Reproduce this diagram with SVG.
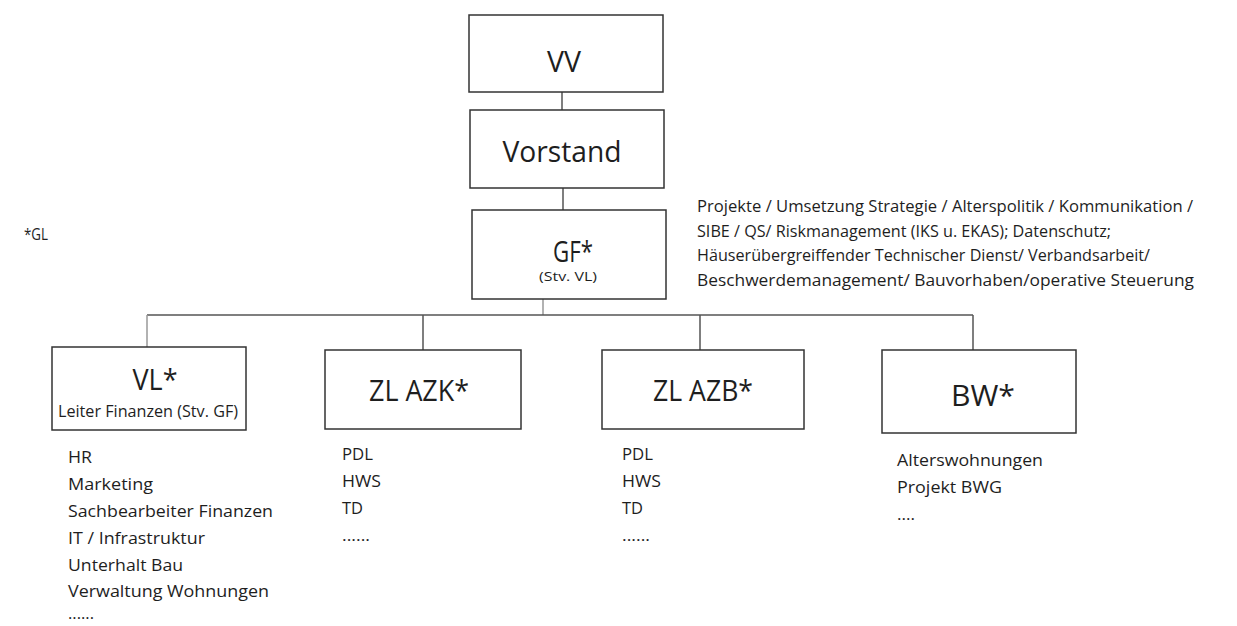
<svg xmlns="http://www.w3.org/2000/svg" width="1237" height="626" viewBox="0 0 1237 626">
<style>
text{font-family:"Open Sans","Liberation Sans",sans-serif;fill:#1e1e1e}
.box{fill:#fff;stroke:#333;stroke-width:1.5}
.big{font-size:29px;text-anchor:middle}
.sm{font-size:16.5px}
.ln{stroke:#555;stroke-width:1.5;fill:none}
.lt{stroke:#999;stroke-width:1.5;fill:none}
</style>
<rect width="1237" height="626" fill="#fff"/>
<g id="connectors">
<line class="ln" x1="562" y1="92" x2="562" y2="110"/>
<line class="ln" x1="563" y1="188" x2="563" y2="210"/>
<line class="lt" x1="543" y1="299" x2="543" y2="315"/>
<line class="ln" x1="147" y1="315" x2="973" y2="315"/>
<line class="lt" x1="147" y1="315" x2="147" y2="347"/>
<line class="ln" x1="423" y1="315" x2="423" y2="350"/>
<line class="ln" x1="700" y1="315" x2="700" y2="350"/>
<line class="ln" x1="973" y1="315" x2="973" y2="350"/>
</g>
<g id="vv">
<rect class="box" x="469" y="15" width="194" height="77"/>
<text class="big" x="564" y="72" font-size="26" textLength="34" lengthAdjust="spacingAndGlyphs">VV</text>
</g>
<g id="vorstand">
<rect class="box" x="470" y="110" width="194" height="78"/>
<text class="big" x="562" y="162" textLength="119" lengthAdjust="spacingAndGlyphs">Vorstand</text>
</g>
<g id="gf">
<rect class="box" x="472" y="210" width="194" height="89"/>
<text class="big" x="573" y="262" font-size="25" textLength="40" lengthAdjust="spacingAndGlyphs">GF*</text>
<text x="568" y="281" font-size="12" text-anchor="middle" textLength="58" lengthAdjust="spacingAndGlyphs">(Stv. VL)</text>
</g>
<g id="gf-tasks" class="sm">
<text x="697" y="212" font-size="17" textLength="496" lengthAdjust="spacingAndGlyphs">Projekte / Umsetzung Strategie / Alterspolitik / Kommunikation /</text>
<text x="697" y="237" font-size="17" textLength="414" lengthAdjust="spacingAndGlyphs">SIBE / QS/ Riskmanagement (IKS u. EKAS); Datenschutz;</text>
<text x="697" y="261" font-size="17" textLength="453" lengthAdjust="spacingAndGlyphs">Häuserübergreiffender Technischer Dienst/ Verbandsarbeit/</text>
<text x="697" y="286" font-size="17" textLength="497" lengthAdjust="spacingAndGlyphs">Beschwerdemanagement/ Bauvorhaben/operative Steuerung</text>
</g>
<g id="gl-note">
<text x="24" y="240" font-size="16.5" textLength="24" lengthAdjust="spacingAndGlyphs">*GL</text>
</g>
<g id="vl">
<rect class="box" x="52" y="347" width="194" height="83"/>
<text class="big" x="155" y="390" textLength="45" lengthAdjust="spacingAndGlyphs">VL*</text>
<text x="148" y="417" font-size="16" text-anchor="middle" textLength="180" lengthAdjust="spacingAndGlyphs">Leiter Finanzen (Stv. GF)</text>
</g>
<g id="vl-list" class="sm">
<text x="68" y="463" textLength="24" lengthAdjust="spacingAndGlyphs">HR</text>
<text x="68" y="490" textLength="85" lengthAdjust="spacingAndGlyphs">Marketing</text>
<text x="68" y="517" textLength="205" lengthAdjust="spacingAndGlyphs">Sachbearbeiter Finanzen</text>
<text x="68" y="544" textLength="137" lengthAdjust="spacingAndGlyphs">IT / Infrastruktur</text>
<text x="68" y="571" textLength="115" lengthAdjust="spacingAndGlyphs">Unterhalt Bau</text>
<text x="68" y="597" textLength="201" lengthAdjust="spacingAndGlyphs">Verwaltung Wohnungen</text>
<text x="68" y="619" textLength="26" lengthAdjust="spacingAndGlyphs">......</text>
</g>
<g id="zl-azk">
<rect class="box" x="325" y="350" width="196" height="79"/>
<text class="big" x="419" y="401" textLength="100" lengthAdjust="spacingAndGlyphs">ZL AZK*</text>
</g>
<g id="zl-azk-list" class="sm">
<text x="342" y="460" textLength="31" lengthAdjust="spacingAndGlyphs">PDL</text>
<text x="342" y="487" textLength="39" lengthAdjust="spacingAndGlyphs">HWS</text>
<text x="342" y="514" textLength="21" lengthAdjust="spacingAndGlyphs">TD</text>
<text x="342" y="541" textLength="28" lengthAdjust="spacingAndGlyphs">......</text>
</g>
<g id="zl-azb">
<rect class="box" x="602" y="350" width="202" height="79"/>
<text class="big" x="703" y="401" textLength="100" lengthAdjust="spacingAndGlyphs">ZL AZB*</text>
</g>
<g id="zl-azb-list" class="sm">
<text x="622" y="460" textLength="31" lengthAdjust="spacingAndGlyphs">PDL</text>
<text x="622" y="487" textLength="39" lengthAdjust="spacingAndGlyphs">HWS</text>
<text x="622" y="514" textLength="21" lengthAdjust="spacingAndGlyphs">TD</text>
<text x="622" y="541" textLength="28" lengthAdjust="spacingAndGlyphs">......</text>
</g>
<g id="bw">
<rect class="box" x="882" y="350" width="194" height="83"/>
<text class="big" x="983" y="406" textLength="64" lengthAdjust="spacingAndGlyphs">BW*</text>
</g>
<g id="bw-list" class="sm">
<text x="897" y="466" textLength="146" lengthAdjust="spacingAndGlyphs">Alterswohnungen</text>
<text x="897" y="493" textLength="105" lengthAdjust="spacingAndGlyphs">Projekt BWG</text>
<text x="897" y="520" textLength="18" lengthAdjust="spacingAndGlyphs">....</text>
</g>
</svg>
